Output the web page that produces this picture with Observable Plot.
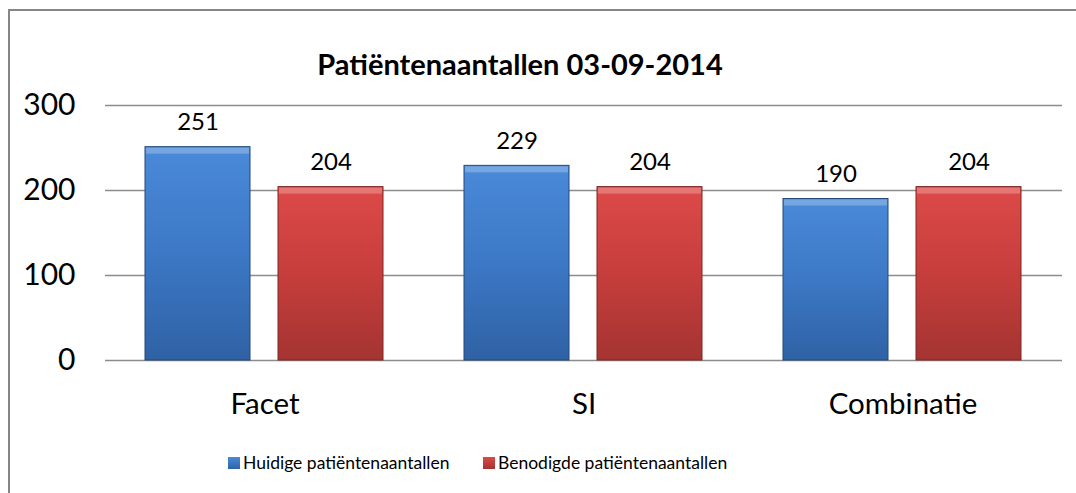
<!DOCTYPE html>
<html>
<head>
<meta charset="utf-8">
<script src="https://cdn.jsdelivr.net/npm/d3@7"></script>
<script src="https://cdn.jsdelivr.net/npm/@observablehq/plot@0.6"></script>
<style>
  html, body { margin: 0; padding: 0; background: #fff; }
  #wrap { position: relative; width: 1076px; height: 493px; overflow: hidden; font-family: Lato, "Open Sans", sans-serif; color: #000; }
  #border { position: absolute; left: 8px; top: 9px; width: 1200px; height: 600px; border-left: 2px solid #868686; border-top: 2px solid #868686; box-sizing: border-box; }
  #title { position: absolute; left: 0; width: 1040px; top: 47px; text-align: center; font-weight: bold; font-size: 29px; line-height: 34px; }
  #chart { position: absolute; left: 0; top: 80px; }
  #legend { position: absolute; top: 450px; left: 0; width: 1076px; font-size: 17.5px; line-height: 26px; }
  .lg { position: absolute; display: flex; align-items: center; white-space: nowrap; }
  .sw { width: 12px; height: 12px; margin-right: 3px; box-sizing: border-box; }
</style>
</head>
<body>
<div id="wrap">
  <div id="border"></div>
  <div id="title">Patiëntenaantallen 03-09-2014</div>
  <div id="chart"></div>
  <div id="legend"></div>
</div>
<script>
const title = "Patiëntenaantallen 03-09-2014";
const categories = ["Facet", "SI", "Combinatie"];
const seriesNames = ["Huidige patiëntenaantallen", "Benodigde patiëntenaantallen"];
const huidige = [251, 229, 190];
const benodigde = [204, 204, 204];
const yTicks = [0, 100, 200, 300];

const data = [];
categories.forEach((c, i) => {
  data.push({category: c, series: seriesNames[0], value: huidige[i]});
  data.push({category: c, series: seriesNames[1], value: benodigde[i]});
});

const defs = () => {
  const ns = "http://www.w3.org/2000/svg";
  const d = document.createElementNS(ns, "defs");
  d.innerHTML = `
    <linearGradient id="gBlue" x1="0" y1="0" x2="0" y2="1">
      <stop offset="0" stop-color="#4a8ad8"/>
      <stop offset="0.5" stop-color="#3c78c6"/>
      <stop offset="1" stop-color="#2f62a4"/>
    </linearGradient>
    <linearGradient id="gRed" x1="0" y1="0" x2="0" y2="1">
      <stop offset="0" stop-color="#dc4a48"/>
      <stop offset="0.5" stop-color="#c63e3c"/>
      <stop offset="1" stop-color="#a43432"/>
    </linearGradient>`;
  return d;
};

const plot = Plot.plot({
  width: 1076,
  height: 340,
  marginTop: 25,
  marginBottom: 60,
  marginLeft: 105,
  marginRight: 14,
  style: {fontFamily: "Lato, 'Open Sans', sans-serif", color: "#000", background: "transparent"},
  fx: {domain: categories, padding: 0, label: null},
  x: {domain: seriesNames, paddingInner: 0.209, paddingOuter: 0.295, axis: null},
  y: {domain: [0, 300], ticks: yTicks, label: null},
  marks: [
    defs,
    Plot.ruleY(yTicks, {stroke: "#8c8c8c", strokeWidth: 1.6}),
    Plot.barY(data.filter(d => d.series === seriesNames[0]), {fx: "category", x: "series", y: "value", fill: "url(#gBlue)", stroke: "#24497a", strokeWidth: 1}),
    Plot.barY(data.filter(d => d.series === seriesNames[1]), {fx: "category", x: "series", y: "value", fill: "url(#gRed)", stroke: "#7e2624", strokeWidth: 1}),
    // bevel highlight along the top edge of each bar
    Plot.barY(data, {fx: "category", x: "series", y1: "value", y2: "value", insetBottom: -7, insetTop: 1, insetLeft: 1, insetRight: 1, fill: "#fff", fillOpacity: 0.25}),
    Plot.text(data, {fx: "category", x: "series", y: "value", text: d => String(d.value), dy: -25, fontSize: 24, fill: "#000"}),
    Plot.axisY({ticks: yTicks, tickSize: 0, tickPadding: 30, fontSize: 30, label: null, anchor: "left"}),
    Plot.axisFx({tickSize: 0, tickPadding: 33, fontSize: 29.5, label: null, anchor: "bottom"})
  ]
});
document.getElementById("chart").appendChild(plot);

const legend = document.getElementById("legend");
const lgPos = [228, 483];
const lgGrad = ["linear-gradient(#4a8ad8,#2f62a4)", "linear-gradient(#dc4a48,#a43432)"];
seriesNames.forEach((s, i) => {
  const el = document.createElement("div");
  el.className = "lg";
  el.style.left = lgPos[i] + "px";
  const sw = document.createElement("div");
  sw.className = "sw";
  sw.style.background = lgGrad[i];
  el.appendChild(sw);
  const t = document.createElement("span");
  t.textContent = s;
  el.appendChild(t);
  legend.appendChild(el);
});
</script>
</body>
</html>
